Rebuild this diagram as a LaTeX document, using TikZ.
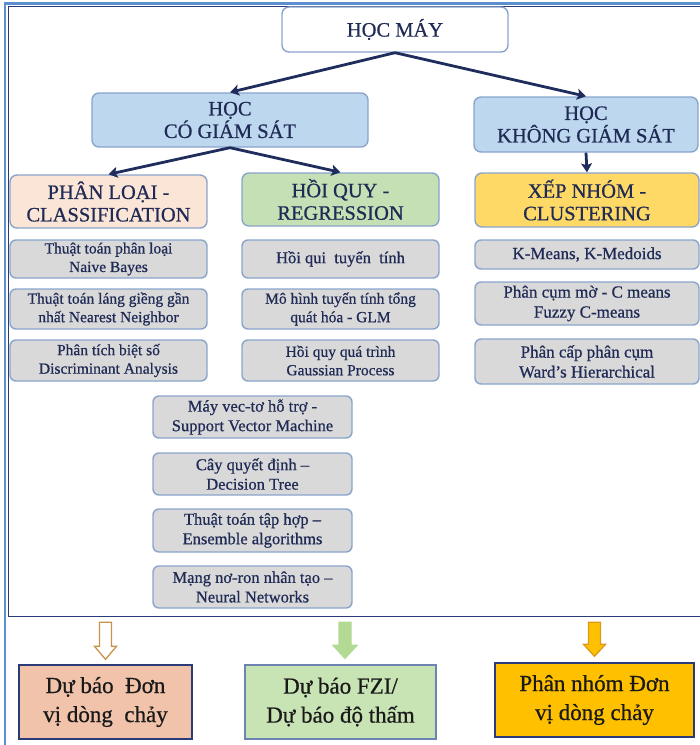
\documentclass[tikz,border=0pt]{standalone}
\usepackage{fontspec}
\setmainfont{Liberation Serif}
\newfontfamily\heavy{Liberation Serif}[FakeBold=0.6]
\usetikzlibrary{arrows.meta}
\definecolor{navy}{HTML}{1F2D5C}
\definecolor{txt}{HTML}{1F2A55}
\definecolor{bord}{HTML}{8AA4CC}
\definecolor{supfill}{HTML}{BDD7EE}
\definecolor{clfill}{HTML}{FBE5D6}
\definecolor{rgfill}{HTML}{C5E0B4}
\definecolor{clufill}{HTML}{FFD966}
\definecolor{grayfill}{HTML}{D9D9D9}
\definecolor{b1fill}{HTML}{F1C3AA}
\definecolor{b2fill}{HTML}{C8E3B4}
\definecolor{b3fill}{HTML}{FFC000}
\definecolor{framelight}{HTML}{5B8FD0}
\definecolor{framedark}{HTML}{2B3A78}
\definecolor{arrtan}{HTML}{C8924A}
\definecolor{arrgreen}{HTML}{B2DA92}
\definecolor{arrorange}{HTML}{D99A1E}
\begin{document}
\begin{tikzpicture}[x=1pt,y=-1pt,
  hbox/.style={draw=bord, line width=1.4pt, rounded corners=7pt, align=center, text=txt, inner sep=0pt,
    font=\heavy\fontsize{20.5}{22.5}\selectfont},
  gbox/.style={draw=bord, line width=1.4pt, rounded corners=6pt, fill=grayfill, align=center, text=txt, inner sep=0pt,
    font=\heavy\fontsize{15.5}{18.5}\selectfont},
  gboxR/.style={gbox, font=\heavy\fontsize{17}{20}\selectfont},
  gboxC/.style={gbox, font=\heavy\fontsize{16.5}{19.5}\selectfont},
  bbox/.style={draw=framedark, line width=1.4pt, align=center, text=black!90, inner sep=0pt,
    font=\heavy\fontsize{23}{29}\selectfont},
  conn/.style={draw=navy, line width=2.8pt, -{Stealth[length=9pt,width=11pt,inset=2pt]}},
  blk/.style={line width=1.3pt, line join=miter}
]
\useasboundingbox (0,0) rectangle (700,745);
% frame
\draw[framelight, line width=2.5pt] (5,745) -- (5,3.5) -- (700,3.5);
\draw[framedark, line width=1pt] (700,6) -- (8.5,6) -- (8.5,616.5) -- (700,616.5);

% headers
\node[hbox, fill=white, minimum width=226pt, minimum height=45pt] (top) at (395,29.5) {HỌC MÁY};
\node[hbox, fill=supfill, minimum width=276pt, minimum height=54pt] (sup) at (230,120) {HỌC\\CÓ GIÁM SÁT};
\node[hbox, fill=supfill, minimum width=224pt, minimum height=55pt] (unsup) at (586,124.5) {HỌC\\KHÔNG GIÁM SÁT};
\node[hbox, fill=clfill, minimum width=197pt, minimum height=53pt] (cls) at (108.5,201.5) {PHÂN LOẠI -\\CLASSIFICATION};
\node[hbox, fill=rgfill, minimum width=197pt, minimum height=53pt] (reg) at (340.5,199.5) {HỒI QUY -\\REGRESSION};
\node[hbox, fill=clufill, minimum width=224pt, minimum height=54pt] (clu) at (587,200) {XẾP NHÓM -\\CLUSTERING};

% left column
\node[gbox, minimum width=197pt, minimum height=38pt] (l1) at (108.5,259) {Thuật toán phân loại\\Naive Bayes};
\node[gbox, minimum width=197pt, minimum height=40pt] (l2) at (108.5,309) {Thuật toán láng giềng gần\\nhất Nearest Neighbor};
\node[gbox, minimum width=197pt, minimum height=41pt] (l3) at (108.5,360.5) {Phân tích biệt số\\Discriminant Analysis};
% middle column
\node[gbox, font=\heavy\fontsize{16.5}{19.5}\selectfont, minimum width=197pt, minimum height=38pt] (m1) at (340.5,259) {Hồi qui\ \ tuyến\ \ tính};
\node[gbox, minimum width=197pt, minimum height=40pt] (m2) at (340.5,309) {Mô hình tuyến tính tổng\\quát hóa - GLM};
\node[gbox, minimum width=197pt, minimum height=41pt] (m3) at (340.5,360.5) {Hồi quy quá trình\\Gaussian Process};
% right column
\node[gboxR, minimum width=224pt, minimum height=29pt] (r1) at (587,254.5) {K-Means, K-Medoids};
\node[gboxR, minimum width=224pt, minimum height=43pt] (r2) at (587,303.5) {Phân cụm mờ - C means\\Fuzzy C-means};
\node[gboxR, minimum width=224pt, minimum height=45pt] (r3) at (587,361.5) {Phân cấp phân cụm\\Ward’s Hierarchical};
% center column
\node[gboxC, minimum width=199pt, minimum height=42pt] (c1) at (252.5,417) {Máy vec-tơ hỗ trợ -\\Support Vector Machine};
\node[gboxC, minimum width=199pt, minimum height=42pt] (c2) at (252.5,474) {Cây quyết định –\\Decision Tree};
\node[gboxC, minimum width=199pt, minimum height=43pt] (c3) at (252.5,530.5) {Thuật toán tập hợp –\\Ensemble algorithms};
\node[gboxC, minimum width=199pt, minimum height=42pt] (c4) at (252.5,587) {Mạng nơ-ron nhân tạo –\\Neural Networks};

% bottom boxes
\node[bbox, fill=b1fill, minimum width=173pt, minimum height=74pt] (b1) at (105.5,702) {Dự báo\ \ Đơn\\vị dòng\ \ chảy};
\node[bbox, draw=bord!70!framedark, fill=b2fill, minimum width=191pt, minimum height=74pt] (b2) at (340.5,702) {Dự báo FZI/\\Dự báo độ thấm};
\node[bbox, fill=b3fill, minimum width=199pt, minimum height=74pt] (b3) at (594.5,700) {Phân nhóm Đơn\\vị dòng chảy};

% connectors
\draw[conn] (top.south) -- (sup.north);
\draw[conn] (top.south) -- (unsup.north);
\draw[conn] (sup.south) -- (cls.north);
\draw[conn] (sup.south) -- (reg.north);
\draw[conn] (unsup.south) -- (clu.north);

% block arrows
\begin{scope}[shift={(b1.north)}]
\draw[blk, draw=arrtan, fill=white] (-6,-42) -- (6,-42) -- (6,-18) -- (11,-18) -- (0,-5) -- (-11,-18) -- (-6,-18) -- cycle;
\end{scope}
\begin{scope}[shift={(b2.north)}, xshift=4.5pt]
\draw[blk, draw=arrgreen, fill=arrgreen] (-6,-42) -- (6,-42) -- (6,-19) -- (12,-19) -- (0,-6) -- (-12,-19) -- (-6,-19) -- cycle;
\end{scope}
\begin{scope}[shift={(b3.north)}]
\draw[blk, draw=arrorange, fill=b3fill] (-6,-40) -- (6,-40) -- (6,-18) -- (11,-18) -- (0,-6) -- (-11,-18) -- (-6,-18) -- cycle;
\end{scope}
\end{tikzpicture}
\end{document}
